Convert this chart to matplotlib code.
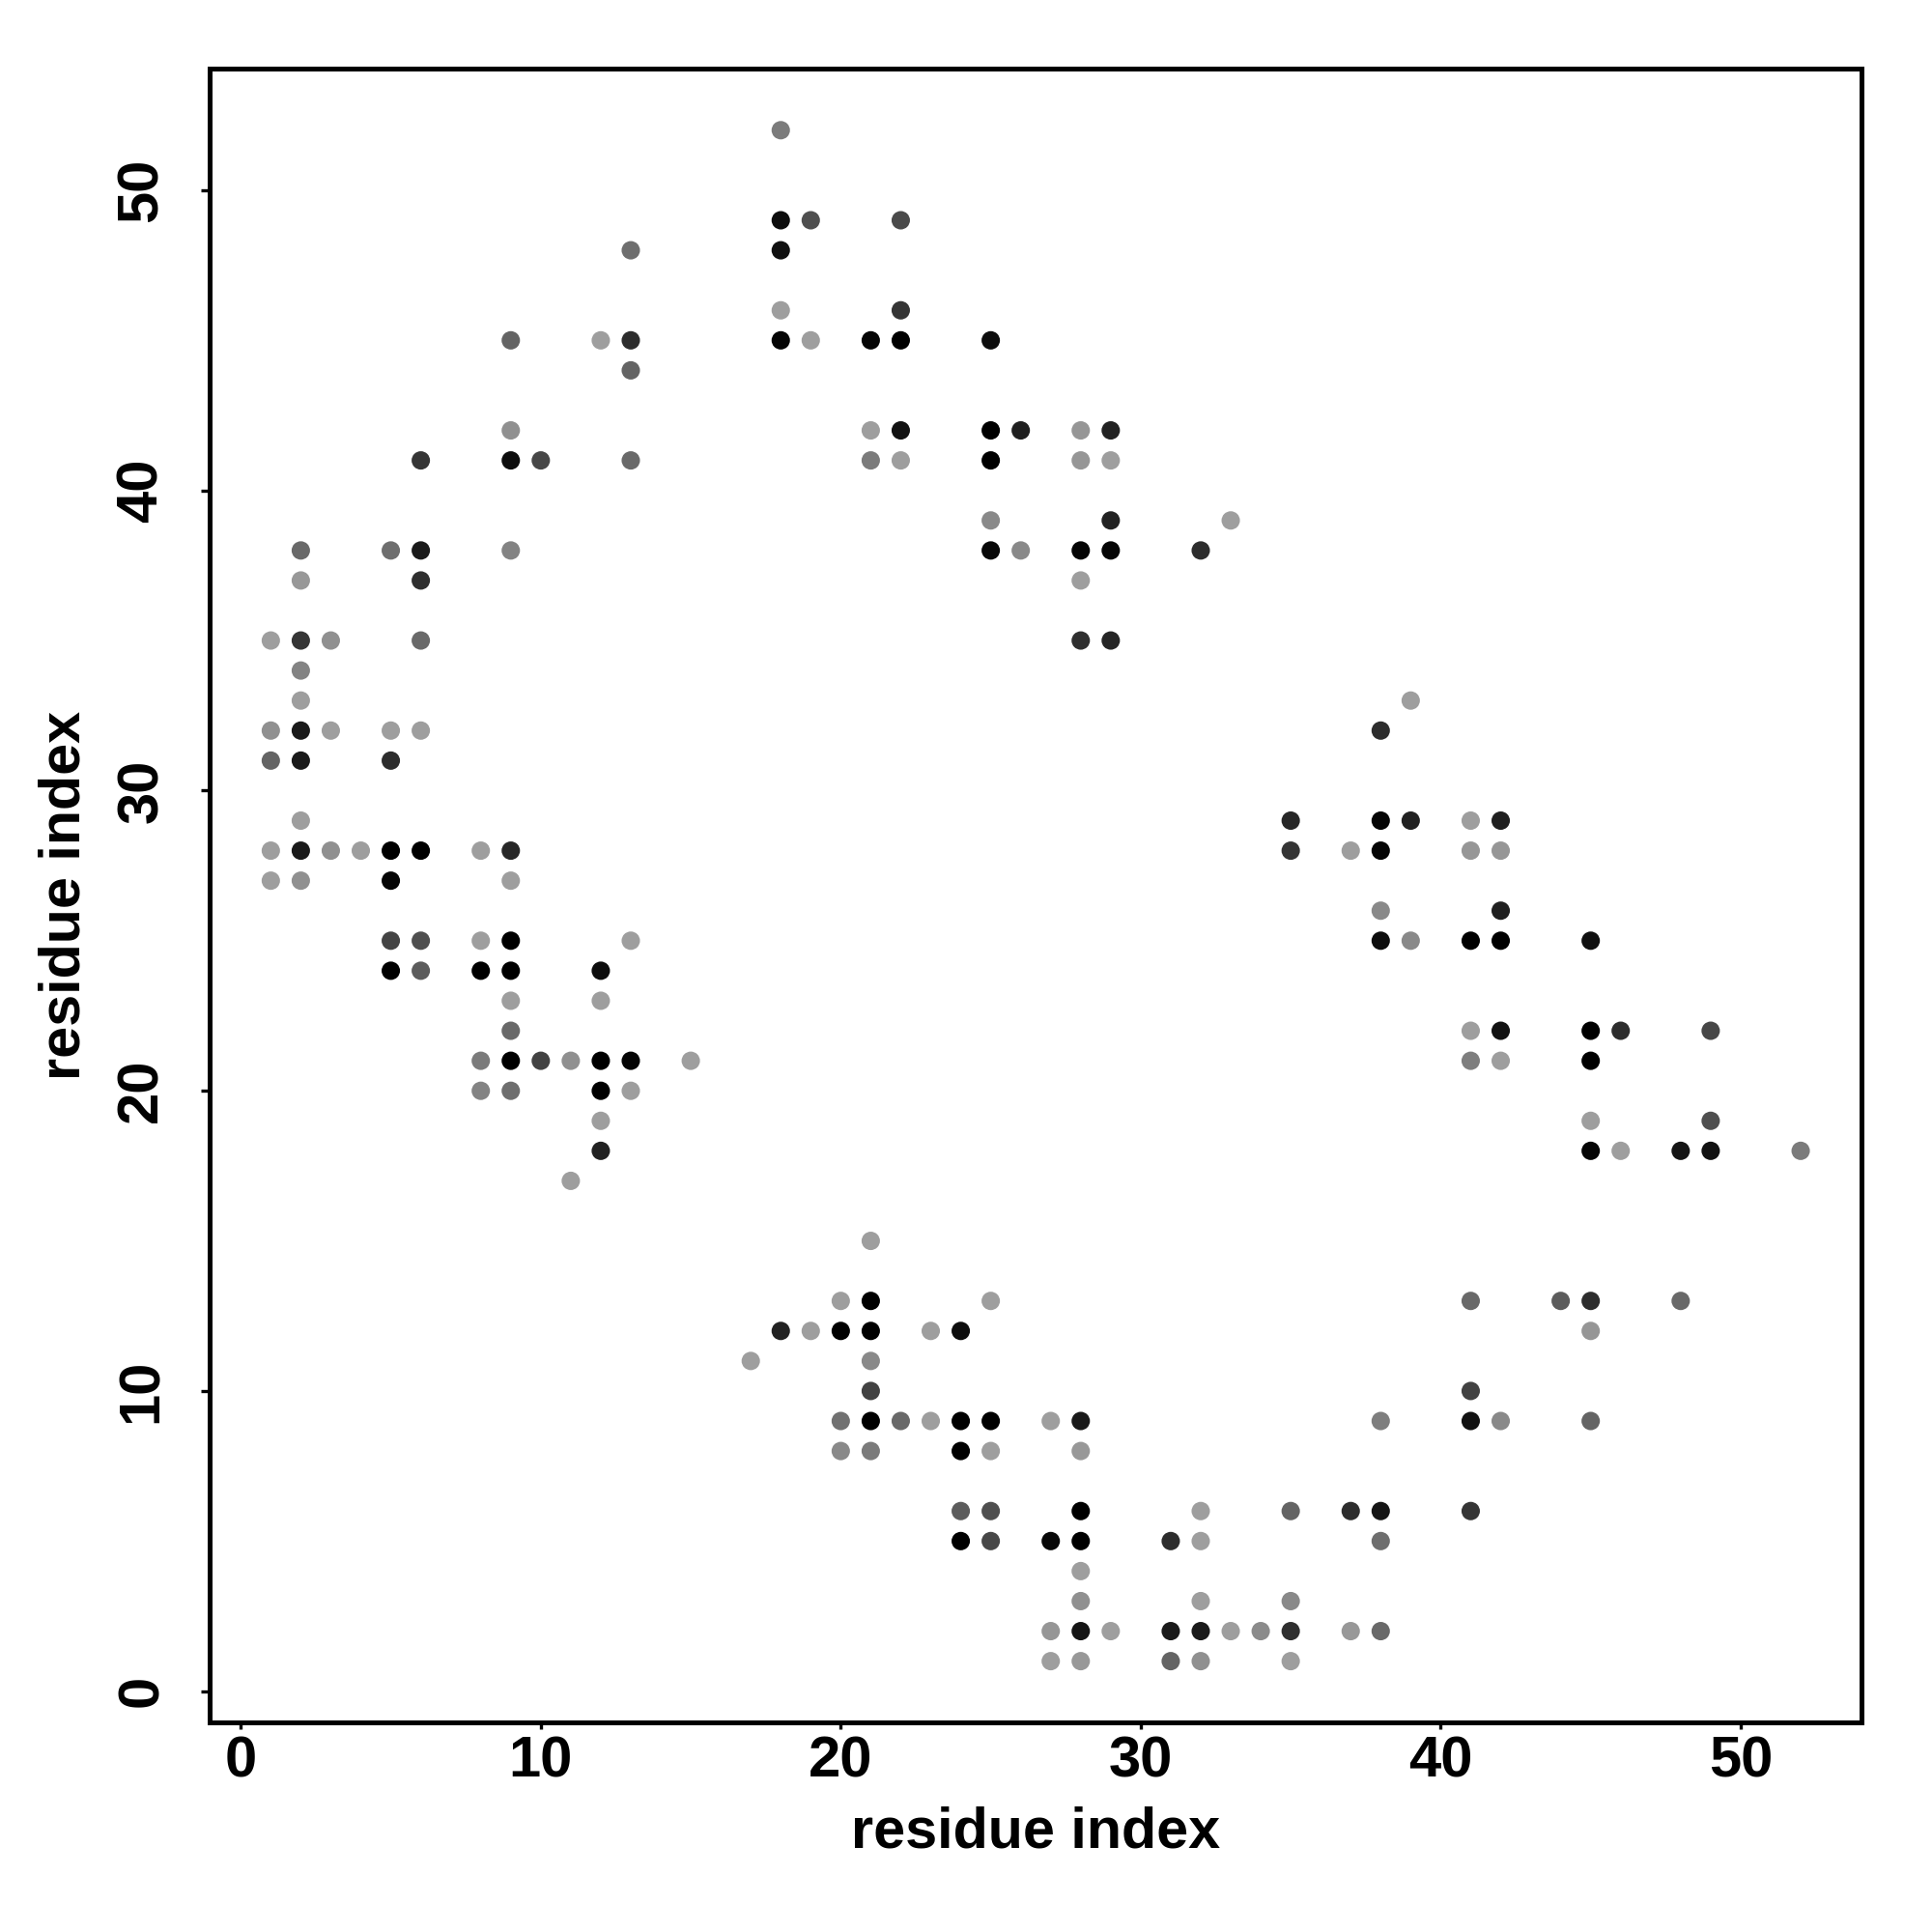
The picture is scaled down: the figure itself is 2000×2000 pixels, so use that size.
import matplotlib
matplotlib.use("Agg")
import matplotlib.pyplot as plt

plt.rcParams['font.family'] = ['Liberation Sans', 'DejaVu Sans']
plt.rcParams['font.weight'] = 'bold'

# contact pairs (residue i, residue j) and grey level of each dot (0 = black)
res_i = [1, 1, 1, 1, 1,
         2, 2, 2, 2, 2, 2, 2, 2, 2, 2,
         3, 3, 3,
         4,
         5, 5, 5, 5, 5, 5, 5,
         6, 6, 6, 6, 6, 6, 6, 6,
         8, 8, 8, 8, 8,
         9, 9, 9, 9, 9, 9, 9, 9, 9, 9, 9, 9,
         10, 10,
         11, 11,
         12, 12, 12, 12, 12, 12, 12,
         13, 13, 13, 13, 13, 13, 13,
         15,
         17,
         18, 18, 18, 18, 18, 18,
         19, 19, 19,
         20, 20, 20, 20,
         21, 21, 21, 21, 21, 21, 21, 21, 21, 21,
         22, 22, 22, 22, 22, 22,
         23, 23,
         24, 24, 24, 24, 24,
         25, 25, 25, 25, 25, 25, 25, 25, 25, 25,
         26, 26,
         27, 27, 27, 27,
         28, 28, 28, 28, 28, 28, 28, 28, 28, 28, 28, 28, 28,
         29, 29, 29, 29, 29, 29,
         31, 31, 31,
         32, 32, 32, 32, 32, 32,
         33, 33,
         34,
         35, 35, 35, 35, 35, 35,
         37, 37, 37,
         38, 38, 38, 38, 38, 38, 38, 38, 38,
         39, 39, 39,
         41, 41, 41, 41, 41, 41, 41, 41, 41,
         42, 42, 42, 42, 42, 42, 42,
         44,
         45, 45, 45, 45, 45, 45, 45, 45,
         46, 46,
         48, 48,
         49, 49, 49,
         52]

res_j = [35, 32, 31, 28, 27,
         38, 37, 35, 34, 33, 32, 31, 29, 28, 27,
         35, 32, 28,
         28,
         38, 32, 31, 28, 27, 25, 24,
         41, 38, 37, 35, 32, 28, 25, 24,
         28, 25, 24, 21, 20,
         45, 42, 41, 38, 28, 27, 25, 24, 23, 22, 21, 20,
         41, 21,
         21, 17,
         45, 24, 23, 21, 20, 19, 18,
         48, 45, 44, 41, 25, 21, 20,
         21,
         11,
         52, 49, 48, 46, 45, 12,
         49, 45, 12,
         13, 12, 9, 8,
         45, 42, 41, 15, 13, 12, 11, 10, 9, 8,
         49, 46, 45, 42, 41, 9,
         12, 9,
         12, 9, 8, 6, 5,
         45, 42, 41, 39, 38, 13, 9, 8, 6, 5,
         42, 38,
         9, 5, 2, 1,
         42, 41, 38, 37, 35, 9, 8, 6, 5, 4, 3, 2, 1,
         42, 41, 39, 38, 35, 2,
         5, 2, 1,
         38, 6, 5, 3, 2, 1,
         39, 2,
         2,
         29, 28, 6, 3, 2, 1,
         28, 6, 2,
         32, 29, 28, 26, 25, 9, 6, 5, 2,
         33, 29, 25,
         29, 28, 25, 22, 21, 13, 10, 9, 6,
         29, 28, 26, 25, 22, 21, 9,
         13,
         25, 22, 21, 19, 18, 13, 12, 9,
         22, 18,
         18, 13,
         22, 19, 18,
         18]

grey = [.6, .55, .38, .6, .6,
        .4, .58, .2, .5, .6, .1, .1, .6, .1, .55,
        .55, .6, .55,
        .6,
        .42, .6, .17, 0, .02, .26, 0,
        .2, .1, .18, .4, .6, 0, .3, .35,
        .6, .6, 0, .47, .5,
        .38, .55, .05, .5, .15, .6, 0, 0, .6, .4, 0, .42,
        .27, .25,
        .55, .6,
        .6, .05, .6, 0, 0, .6, .13,
        .42, .17, .38, .4, .6, .02, .6,
        .6,
        .6,
        .47, .05, .06, .6, .02, .13,
        .3, .6, .6,
        .6, 0, .43, .52,
        .02, .6, .47, .6, 0, 0, .52, .25, 0, .47,
        .28, .2, 0, .07, .6, .4,
        .6, .6,
        .05, 0, 0, .35, 0,
        .05, 0, 0, .52, .03, .6, 0, .6, .3, .27,
        .12, .52,
        .6, .03, .57, .6,
        .57, .57, .02, .6, .18, .1, .58, 0, 0, .6, .55, .08, .58,
        .13, .6, .13, .02, .14, .6,
        .17, .1, .38,
        .17, .6, .6, .6, .1, .55,
        .6, .6,
        .53,
        .15, .2, .38, .52, .18, .6,
        .6, .17, .58,
        .17, .02, .02, .52, .05, .48, .08, .42, .4,
        .6, .13, .52,
        .6, .57, 0, .6, .48, .4, .25, .07, .2,
        .12, .57, .12, 0, .07, .6, .52,
        .35,
        .06, 0, 0, .6, .02, .17, .57, .38,
        .17, .6,
        .08, .4,
        .27, .3, .07,
        .47]

ticks = [0, 10, 20, 30, 40, 50]

fig = plt.figure(figsize=(10, 10), dpi=200)
ax = fig.add_axes([0.1085, 0.1085, 0.8552, 0.8558])

colors = [str(g * 1.03) for g in grey]
ax.scatter(res_i, res_j, s=47, c=colors, linewidths=0, zorder=3)

ax.set_xlim(-1.04, 54.04)
ax.set_ylim(-1.04, 54.04)
ax.set_xticks(ticks)
ax.set_yticks(ticks)
ax.set_xticklabels([str(t) for t in ticks], fontsize=21.5, fontweight='bold')
ax.set_yticklabels([str(t) for t in ticks], fontsize=21.5, fontweight='bold',
                   rotation=90, va='center')
ax.tick_params(axis='x', direction='out', length=2.5, width=1.2, pad=2.5)
ax.tick_params(axis='y', direction='out', length=3.2, width=1.2, pad=12)

for sp in ax.spines.values():
    sp.set_linewidth(1.8)

ax.set_xlabel('residue index', fontsize=21.4, fontweight='bold', labelpad=6.5)
ax.set_ylabel('residue index', fontsize=21.4, fontweight='bold', labelpad=9)

fig.savefig('out.png', dpi=200, facecolor='white')
